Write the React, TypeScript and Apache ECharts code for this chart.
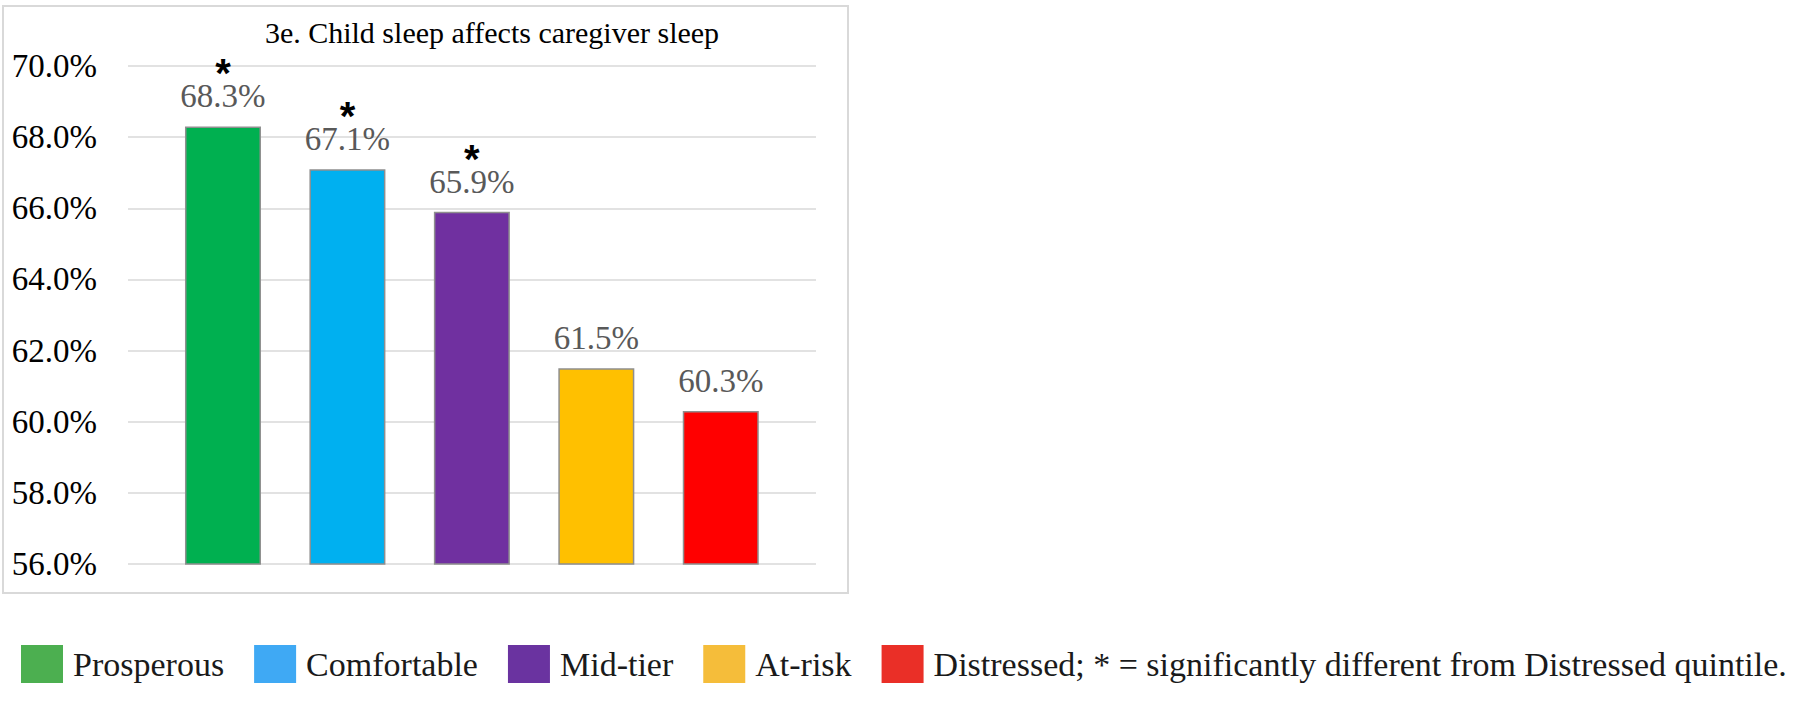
import React, { useEffect, useRef } from "react";
import * as echarts from "echarts";

const categories = ["Prosperous", "Comfortable", "Mid-tier", "At-risk", "Distressed"];
const values = [68.3, 67.1, 65.9, 61.5, 60.3];
const significant = [true, true, true, false, false];
const barColors = ["#00b050", "#00b0f0", "#7030a0", "#ffc000", "#ff0000"];
const legendColors = ["#4caf50", "#3fa9f4", "#6a33a0", "#f5bd3a", "#ea2f27"];
const yMin = 56;
const yMax = 70;
const yInterval = 2;
const titleText = "3e. Child sleep affects caregiver sleep";
const legendNote = "; * = significantly different from Distressed quintile.";

const SERIF = '"Liberation Serif", "Times New Roman", serif';

export default function App() {
  const ref = useRef<HTMLDivElement>(null);
  useEffect(() => {
    if (!ref.current) return;
    const chart = echarts.init(ref.current, null, { renderer: "svg" });
    const gridTop = 66;
    const gridBottom = 711 - 564;
    chart.setOption({
      animation: false,
      backgroundColor: "#ffffff",
      title: {
        text: titleText,
        left: 487,
        top: 12,
        textAlign: "center",
        textStyle: { fontFamily: SERIF, fontSize: 30, fontWeight: "normal", color: "#000" },
      },
      graphic: [
        {
          type: "rect",
          z: -10,
          shape: { x: 3, y: 6, width: 845, height: 587 },
          style: { fill: "none", stroke: "#d9d9d9", lineWidth: 2 },
        },
      ],
      legend: {
        left: 21,
        top: 645,
        width: 1779,
        padding: 0,
        itemWidth: 42,
        itemHeight: 38,
        itemGap: 30,
        icon: "rect",
        itemStyle: { borderWidth: 0 },
        textStyle: { fontFamily: SERIF, fontSize: 34, color: "#1a1a1a", padding: [0, 0, 0, 5] },
        formatter: (name: string) => (name === "Distressed" ? name + legendNote : name),
        data: categories.map((name, i) => ({ name, itemStyle: { color: legendColors[i], borderWidth: 0 } })),
      },
      grid: [
        { left: 128, right: 1800 - 816, top: gridTop, bottom: gridBottom },
        { left: 160.75, right: 1800 - 783, top: gridTop, bottom: gridBottom },
      ],
      xAxis: [
        { gridIndex: 0, type: "category", data: categories, show: false },
        { gridIndex: 1, type: "category", data: categories, show: false },
      ],
      yAxis: [
        {
          gridIndex: 0,
          type: "value",
          min: yMin,
          max: yMax,
          interval: yInterval,
          axisLine: { show: false },
          axisTick: { show: false },
          axisLabel: {
            margin: 31,
            fontFamily: SERIF,
            fontSize: 33,
            color: "#000",
            formatter: (v: number) => v.toFixed(1) + "%",
          },
          splitLine: { show: true, lineStyle: { color: "#d9d9d9", width: 1.5 } },
        },
        {
          gridIndex: 1,
          type: "value",
          min: yMin,
          max: yMax,
          interval: yInterval,
          show: false,
          splitLine: { show: false },
        },
      ],
      series: categories.map((name, i) => ({
        type: "bar",
        name,
        stack: "all",
        xAxisIndex: 1,
        yAxisIndex: 1,
        barWidth: 76,
        data: categories.map((_, j) => (j === i ? values[i] : "-")),
        itemStyle: { color: barColors[i], borderColor: "#8f8f8f", borderWidth: 1.5 },
        label: {
          show: true,
          position: "top",
          distance: 12,
          formatter: significant[i]
            ? "{s|*}\n{v|" + values[i].toFixed(1) + "%}"
            : "{v|" + values[i].toFixed(1) + "%}",
          rich: {
            s: {
              fontFamily: '"Liberation Sans", Arial, sans-serif',
              fontWeight: "bold",
              fontSize: 40,
              lineHeight: 10,
              color: "#000",
              align: "center",
            },
            v: {
              fontFamily: SERIF,
              fontSize: 33,
              lineHeight: 36,
              color: "#595959",
              align: "center",
            },
          },
        },
      })),
    });
    return () => chart.dispose();
  }, []);
  return (
    <div
      ref={ref}
      style={{ position: "fixed", left: 0, top: 0, width: 1800, height: 711, background: "#fff" }}
    />
  );
}
